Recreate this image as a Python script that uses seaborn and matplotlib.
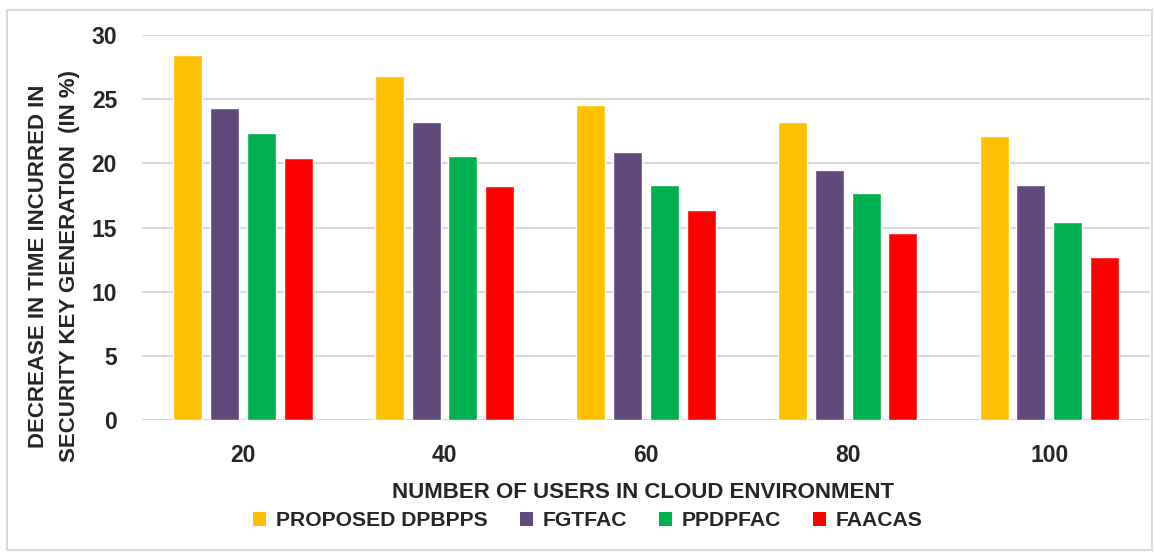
import numpy as np
import pandas as pd
import matplotlib.pyplot as plt
import seaborn as sns
from matplotlib.patches import Patch, Rectangle

sns.set_theme(style="white")
plt.rcParams['font.family'] = ['Liberation Sans', 'DejaVu Sans']
plt.rcParams['font.weight'] = 'bold'

# data
users = ["20", "40", "60", "80", "100"]
methods = ["PROPOSED DPBPPS", "FGTFAC", "PPDPFAC", "FAACAS"]
dpbpps = [28.45, 26.8, 24.55, 23.2, 22.1]
fgtfac = [24.3, 23.2, 20.9, 19.5, 18.3]
ppdpfac = [22.4, 20.6, 18.3, 17.7, 15.4]
faacas = [20.4, 18.2, 16.4, 14.6, 12.7]
colors = ["#FFC000", "#604A7B", "#00B050", "#FF0000"]

df = pd.DataFrame({
    "Users": users * 4,
    "Method": np.repeat(methods, len(users)),
    "Value": dpbpps + fgtfac + ppdpfac + faacas,
})

fig = plt.figure(figsize=(11.55, 5.55), dpi=100)
ax = fig.add_axes([0.123, 0.243, 0.8727, 0.694])

sns.barplot(data=df, x="Users", y="Value", hue="Method", palette=colors,
            width=0.73, gap=0.21, ax=ax, legend=False, saturation=1)

ax.set_ylim(0, 30)
ax.set_yticks(range(0, 31, 5))
ax.set_xlim(-0.5, 4.5)
ax.yaxis.grid(True, color="#D9D9D9", linewidth=1.5)
ax.set_axisbelow(True)
sns.despine(ax=ax, left=True, top=True, right=True, bottom=True)
ax.axhline(0, color="#D9D9D9", linewidth=1.5, zorder=0)

ax.tick_params(axis="both", length=0, labelsize=16.5)
ax.tick_params(axis="x", pad=17)
ax.tick_params(axis="y", pad=18)
for t in ax.get_xticklabels() + ax.get_yticklabels():
    t.set_fontweight("bold")

ax.set_xlabel("")
ax.set_ylabel("DECREASE IN TIME INCURRED IN\nSECURITY KEY GENERATION  (IN %)",
              fontsize=16, fontweight="bold", linespacing=1.6)
ax.yaxis.set_label_coords(-0.062, 0.40)

fig.text(643 / 1155, 1 - 493 / 555, "NUMBER OF USERS IN CLOUD ENVIRONMENT",
         ha="center", va="center", fontsize=16, fontweight="bold")

handles = [Patch(facecolor=c, edgecolor="none") for c in colors]
fig.legend(handles, methods, ncol=4, loc="center",
           bbox_to_anchor=(588 / 1155, 1 - 521 / 555), frameon=False,
           prop={"size": 15.2, "weight": "bold"}, handlelength=0.62,
           handleheight=0.62, handletextpad=0.47, columnspacing=1.5)

fig.patches.append(Rectangle((7 / 1155, 5 / 555), 1145 / 1155, 540 / 555,
                             transform=fig.transFigure, fill=False,
                             edgecolor="#D9D9D9", linewidth=1.5))

plt.savefig("out.png", dpi=100)
